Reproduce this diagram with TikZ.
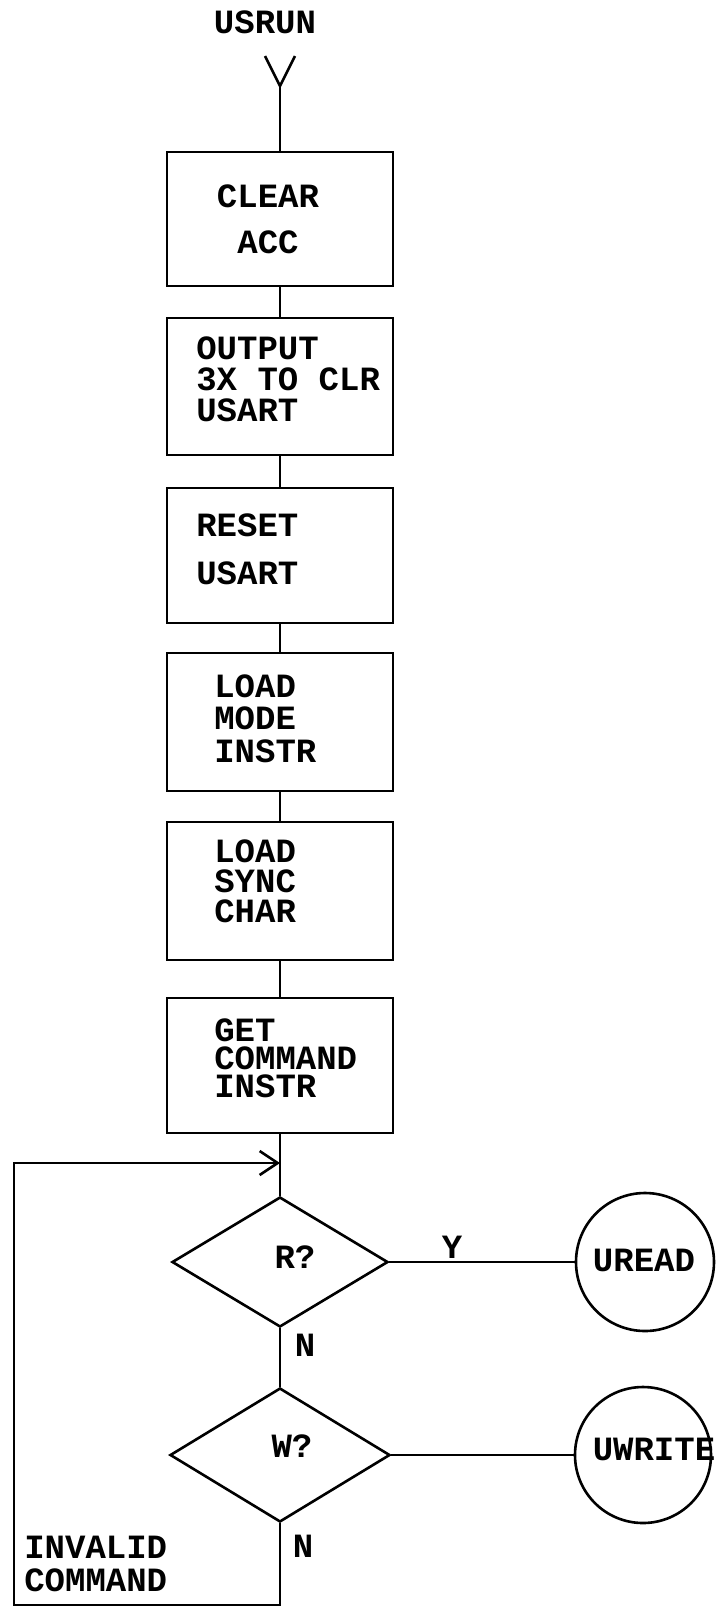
\documentclass[tikz,border=0pt]{standalone}
\usepackage{fontspec}
\newfontfamily\tw{Liberation Mono}
\usetikzlibrary{shapes.geometric,arrows.meta}
\tikzset{
  txtfont/.style={font=\tw\bfseries\fontsize{17}{#1}\selectfont},
  lbl/.style={txtfont=20, inner sep=0pt},
  blocktxt/.style={txtfont=#1, inner sep=0pt, align=left, anchor=north west},
  stepbox/.style={draw, rectangle, minimum width=113pt, inner sep=0pt},
  decision/.style={draw, diamond, inner sep=0pt},
  terminal/.style={draw, circle, inner sep=0pt},
}
\begin{document}
\begin{tikzpicture}[x=0.5pt,y=-0.5pt,line width=1.3pt]
\useasboundingbox (0,0) rectangle (721,1608);

% title and entry
\node[lbl] (usrun) at (265,22) {USRUN};
\coordinate (vtip) at (280,86);
\coordinate (vl) at (265,56);
\coordinate (vr) at (295,56);

% process boxes
\node[stepbox, minimum height=67pt]   (b1) at (280,219)    {};
\node[stepbox, minimum height=68.5pt] (b2) at (280,386.5)  {};
\node[stepbox, minimum height=67.5pt] (b3) at (280,555.5)  {};
\node[stepbox, minimum height=69pt]   (b4) at (280,722)    {};
\node[stepbox, minimum height=69pt]   (b5) at (280,891)    {};
\node[stepbox, minimum height=67.5pt] (b6) at (280,1065.5) {};

% box texts
\node[blocktxt=23, align=center, anchor=north] (t1) at (268,183) {CLEAR\\ACC};
\node[blocktxt=15.5] (t2) at (195,335) {OUTPUT\\3X TO CLR\\USART};
\node[blocktxt=24] (t3) at (195,512) {RESET\\USART};
\node[blocktxt=16.25] (t4) at (213,673) {LOAD\\MODE\\INSTR};
\node[blocktxt=15] (t5) at (213,838) {LOAD\\SYNC\\CHAR};
\node[blocktxt=14] (t6) at (213,1017) {GET\\COMMAND\\INSTR};

% decisions
\node[decision, minimum width=108pt, minimum height=65pt] (d1) at (280,1262) {};
\node[decision, minimum width=110pt, minimum height=67pt] (d2) at (280,1455) {};
\node[lbl] (q1) at (295,1257) {R?};
\node[lbl] (q2) at (292,1446) {W?};

% terminals
\node[terminal, minimum size=69pt] (c1) at (645,1262) {};
\node[terminal, minimum size=68pt] (c2) at (643,1455) {};
\node[lbl] (u1) at (644,1260) {UREAD};
\node[lbl] (u2) at (654,1449) {UWRITE};

% labels
\node[lbl] (ly) at (452,1247) {Y};
\node[lbl] (ln1) at (305,1345) {N};
\node[lbl] (ln2) at (303,1546) {N};
\node[blocktxt=16.5] (inv) at (23,1535) {INVALID\\COMMAND};

% loop coordinates
\coordinate (j) at (280,1163);
\coordinate (lb) at (14,1605);

% connectors
\draw (vl) -- (vtip) -- (vr);
\draw (vtip) -- (b1.north);
\draw (b1.south) -- (b2.north);
\draw (b2.south) -- (b3.north);
\draw (b3.south) -- (b4.north);
\draw (b4.south) -- (b5.north);
\draw (b5.south) -- (b6.north);
\draw (b6.south) -- (d1.north);
\draw (d1.south) -- (d2.north);
\draw (d1.east) -- (c1.west);
\draw (d2.east) -- (c2.west);
\draw[-{Straight Barb[length=9pt,width=12pt]}] (d2.south) |- (lb) -- (lb |- j) -- (j);
\end{tikzpicture}
\end{document}
